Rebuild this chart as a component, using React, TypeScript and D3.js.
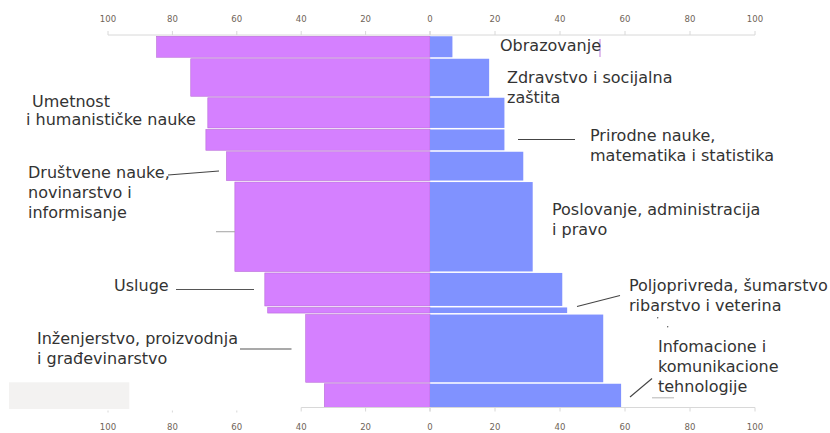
import React from "react";
import * as d3 from "d3";

// Fields of study, top to bottom
const fields = [
  "Obrazovanje",
  "Zdravstvo i socijalna zaštita",
  "Umetnost i humanističke nauke",
  "Prirodne nauke, matematika i statistika",
  "Društvene nauke, novinarstvo i informisanje",
  "Poslovanje, administracija i pravo",
  "Usluge",
  "Poljoprivreda, šumarstvo ribarstvo i veterina",
  "Inženjerstvo, proizvodnja i građevinarstvo",
  "Infomacione i komunikacione tehnologije",
];
// Relative size of each field (bar thickness)
const fieldSize = [22.5, 39, 31.7, 22.3, 30.3, 90.9, 34.5, 7.1, 69.2, 25];
// Women (left, purple) and men (right, blue), %
const women = [84.9, 74.3, 69.0, 69.6, 63.2, 60.6, 51.3, 50.4, 38.6, 32.8];
const men = [6.9, 18.2, 22.9, 22.9, 28.7, 31.6, 40.7, 42.2, 53.3, 58.8];
const tickValues = [0, 20, 40, 60, 80, 100];

type Lbl = { lines: string[]; x: number; y: number };
const labels: Lbl[] = [
  { lines: ["Obrazovanje"], x: 500, y: 51 },
  { lines: ["Zdravstvo i socijalna", "zaštita"], x: 507, y: 83 },
  { lines: ["Umetnost"], x: 32, y: 107 },
  { lines: ["i humanističke nauke"], x: 26, y: 125 },
  { lines: ["Prirodne nauke,", "matematika i statistika"], x: 590, y: 141 },
  { lines: ["Društvene nauke,", "novinarstvo i", "informisanje"], x: 28, y: 177.5 },
  { lines: ["Poslovanje, administracija", "i pravo"], x: 552, y: 215 },
  { lines: ["Usluge"], x: 114, y: 291 },
  { lines: ["Poljoprivreda, šumarstvo", "ribarstvo i veterina"], x: 629, y: 290.5 },
  { lines: ["Inženjerstvo, proizvodnja", "i građevinarstvo"], x: 37, y: 344 },
  { lines: ["Infomacione i", "komunikacione", "tehnologije"], x: 658, y: 351.5 },
];

const leaders = [
  { x1: 518, y1: 139.5, x2: 575, y2: 139.5, c: "#444" },
  { x1: 168, y1: 175, x2: 219, y2: 171, c: "#444" },
  { x1: 216, y1: 231.7, x2: 235, y2: 231.7, c: "#aaa" },
  { x1: 176, y1: 289.5, x2: 254, y2: 289.5, c: "#555" },
  { x1: 240, y1: 349, x2: 291.5, y2: 349, c: "#555" },
  { x1: 577, y1: 306.5, x2: 620, y2: 295.5, c: "#444" },
  { x1: 630, y1: 397, x2: 652, y2: 378.5, c: "#444" },
  { x1: 652, y1: 397.8, x2: 674, y2: 397.8, c: "#bbb" },
  { x1: 600, y1: 39, x2: 600, y2: 57, c: "#c98be0" },
];

export default function App() {
  const W = 830;
  const H = 433;
  const zeroX = 430;
  const xL = d3.scaleLinear().domain([0, 100]).range([zeroX, 108]);
  const xR = d3.scaleLinear().domain([0, 100]).range([zeroX, 755]);
  const total = d3.sum(fieldSize);
  const yS = d3.scaleLinear().domain([0, total]).range([35.5, 408]);
  const cum = [0, ...d3.cumsum(fieldSize)];

  const purple = "#d580ff";
  const blue = "#8092ff";
  const tickFont = "'DejaVu Sans Condensed', 'DejaVu Sans', sans-serif";
  const topY = 35;
  const botY = 407.5;

  return (
    <svg
      width={W}
      height={H}
      style={{ position: "absolute", left: 0, top: 0, background: "#fff" }}
      fontFamily="'DejaVu Sans', sans-serif"
    >
      {/* grey box */}
      <rect x={9} y={382.3} width={120.3} height={26.7} fill="#f3f2f1" />

      {/* bars */}
      {fields.map((f, i) => {
        const y0 = yS(cum[i]);
        const y1 = yS(cum[i + 1]);
        return (
          <g key={f}>
            <rect
              x={xL(women[i])}
              y={y0 + 0.75}
              width={zeroX - xL(women[i])}
              height={Math.max(0, y1 - y0 - 1.5)}
              fill={purple}
              stroke="#b768d8"
              strokeWidth={0.6}
            />
            <rect
              x={zeroX}
              y={y0 + 0.75}
              width={xR(men[i]) - zeroX}
              height={Math.max(0, y1 - y0 - 1.5)}
              fill={blue}
            />
          </g>
        );
      })}

      {/* top axis */}
      <line x1={xL(100)} x2={xR(100)} y1={topY} y2={topY} stroke="#d8d8d8" />
      {tickValues.map((t) => (
        <g key={"tl" + t}>
          <line x1={xL(t)} x2={xL(t)} y1={topY - 4} y2={topY} stroke="#d8d8d8" />
          <line x1={xR(t)} x2={xR(t)} y1={topY - 4} y2={topY} stroke="#d8d8d8" />
          <text x={xL(t)} y={22} fontSize={9.5} fill="#6f6458" textAnchor="middle" fontFamily={tickFont}>
            {t}
          </text>
          {t > 0 && (
            <text x={xR(t)} y={22} fontSize={9.5} fill="#6f6458" textAnchor="middle" fontFamily={tickFont}>
              {t}
            </text>
          )}
        </g>
      ))}

      {/* bottom axis */}
      <line x1={xL(40)} x2={xR(100)} y1={botY} y2={botY} stroke="#d8d8d8" />
      {tickValues.map((t) => (
        <g key={"bl" + t}>
          {t <= 40 ? (
            <line x1={xL(t)} x2={xL(t)} y1={botY} y2={botY + 4} stroke="#d8d8d8" />
          ) : (
            <line x1={xL(t)} x2={xL(t)} y1={botY + 3} y2={botY + 5} stroke="#d8d8d8" />
          )}
          <line x1={xR(t)} x2={xR(t)} y1={botY} y2={botY + 4} stroke="#d8d8d8" />
          <text x={xL(t)} y={430} fontSize={9.5} fill="#6f6458" textAnchor="middle" fontFamily={tickFont}>
            {t}
          </text>
          {t > 0 && (
            <text x={xR(t)} y={430} fontSize={9.5} fill="#6f6458" textAnchor="middle" fontFamily={tickFont}>
              {t}
            </text>
          )}
        </g>
      ))}

      {/* leader lines */}
      {leaders.map((l, i) => (
        <line key={"ld" + i} x1={l.x1} y1={l.y1} x2={l.x2} y2={l.y2} stroke={l.c} strokeWidth={1.1} />
      ))}
      <circle cx={657.7} cy={317.7} r={0.7} fill="#555" />
      <circle cx={667.7} cy={326.7} r={0.7} fill="#555" />

      {/* labels */}
      {labels.map((l, i) => (
        <text key={"lb" + i} x={l.x} y={l.y} fontSize={16} fill="#333">
          {l.lines.map((s, j) => (
            <tspan key={j} x={l.x} dy={j === 0 ? 0 : 20}>
              {s}
            </tspan>
          ))}
        </text>
      ))}
    </svg>
  );
}
